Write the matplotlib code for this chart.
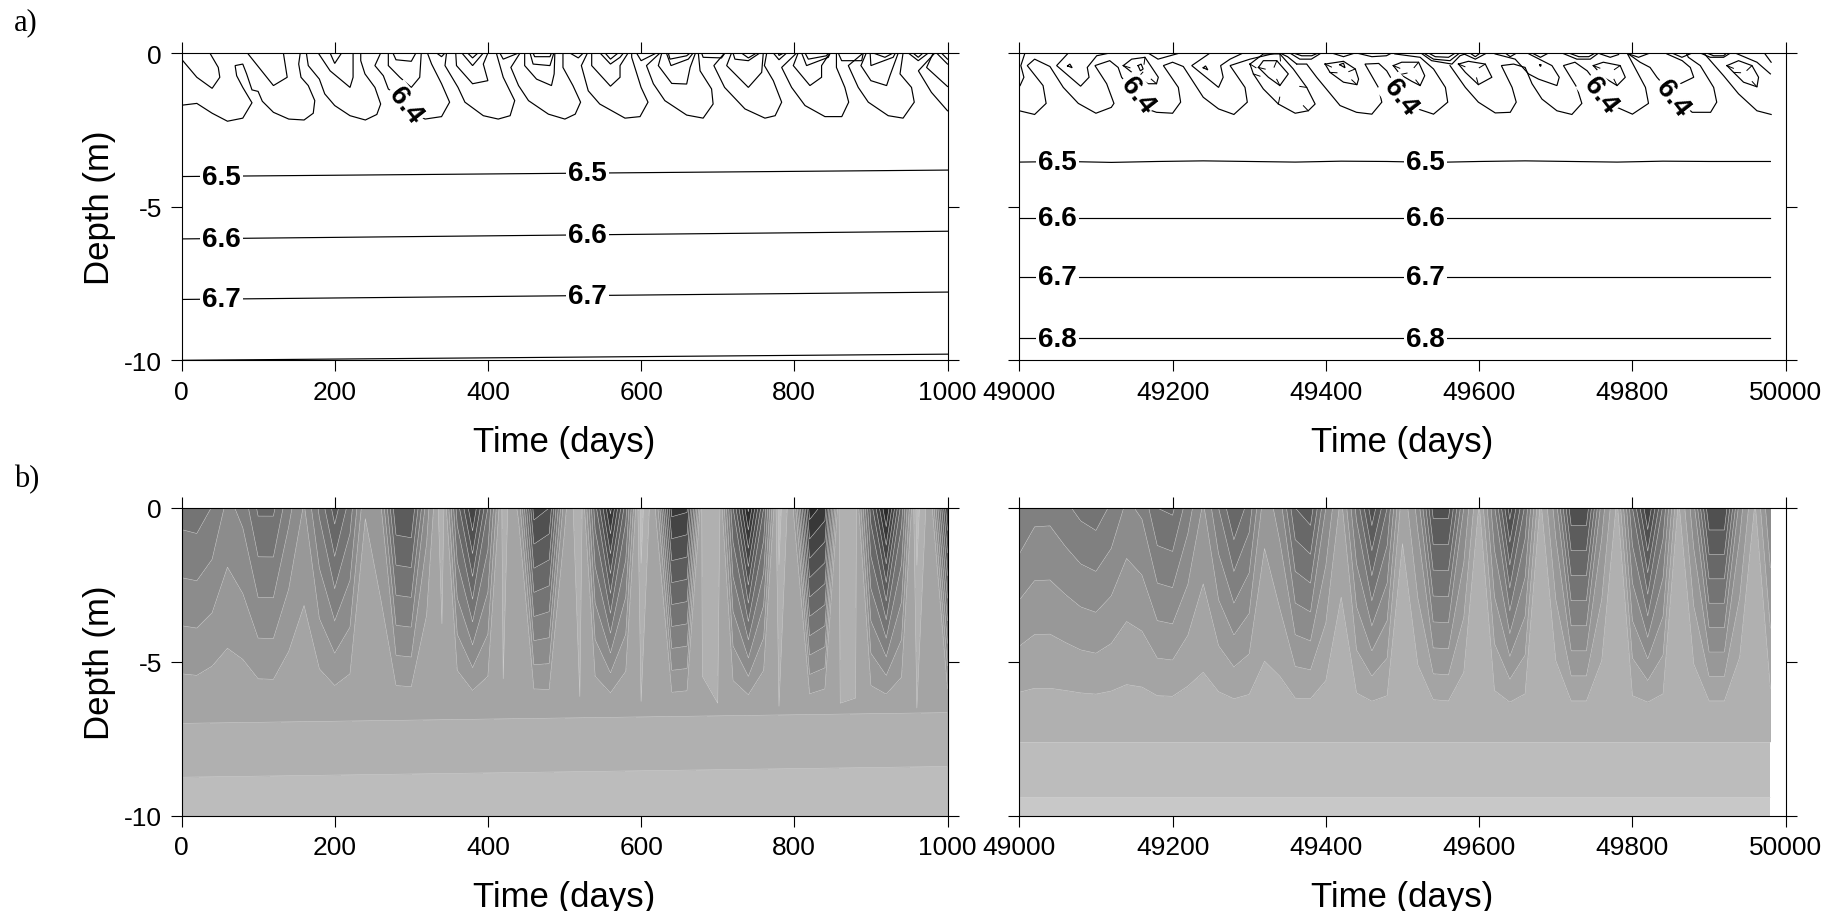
import numpy as np
import matplotlib
matplotlib.use('Agg')
import matplotlib.pyplot as plt

plt.rcParams['font.family'] = ['Liberation Sans', 'DejaVu Sans']
plt.rcParams['axes.unicode_minus'] = False

# ---- panel a: isotherms, (time, depth below surface)
left_iso64 = [
    [(0,1.70),(20,1.64),(40,1.96),(60,2.22),(80,2.12),(92,1.62),(80,1.12),(72,.74),(70,.41),(80,.36),(85,.68),(92,1.2),(100,1.25),(105.5,1.57),(120,1.93),(140,2.15),(160,2.18),(172,1.96),(174,1.55),(165.5,1.06),(156,.79),(153,.36),(155,0)],
    [(163,0),(165.5,.41),(180,.85),(187,1.33),(200,1.71),(220,2.04),(240,2.18),(255,2.0),(260,1.66),(252.5,1.12),(239.5,.68),(234,.25),(234,0)],
    [(260,0),(252.5,.41),(263.5,.74),(270,1.17),(278.5,1.33),(296,1.88),(318,2.15),(339.5,2.07),(350,1.6),(339.5,1.0),(326.5,.36),(321,0)],
    [(346,0),(344,.41),(361,1.12),(370,1.6),(394,2.04),(413.5,2.15),(429,2.04),(435,1.55),(420,.79),(411,0)],
    [(442,0),(430,.47),(440,1.06),(453,1.55),(479,1.99),(500.5,2.15),(514,1.99),(521,1.6),(511,1.06),(498,.47),(498,0)],
    [(530,0),(522,.41),(531,1.23),(546,1.66),(579,2.12),(598.6,2.07),(609,1.6),(600,1.12),(587.7,.14),(587.7,0)],
    [(624.7,0),(607,.41),(616,1.0),(631,1.55),(659.5,2.02),(681,2.12),(694,1.66),(692,1.17),(677,.58),(674.7,0)],
    [(709,0),(695,.41),(709,1.12),(735.6,1.82),(761.7,2.12),(775,2.04),(783.5,1.6),(772.6,.9),(761,.41),(764,0)],
    [(803,0),(783.5,.47),(796.5,1.12),(814,1.71),(840,2.07),(862,2.07),(871,1.6),(866,1.12),(855,.47),(855,0)],
    [(890,0),(870.5,.41),(883.5,1.12),(896.6,1.6),(922.6,2.04),(942,2.12),(956.6,1.6),(953,1.12),(938,.68),(942,0)],
    [(983.5,0),(962,.58),(979,1.28),(1000,1.88)],
]
left_iso63 = [
    [(0,.2),(20,.79),(40,1.15),(50,.79),(48,.47),(37,0)],
    [(86,0),(120,1.06),(138,.79),(133,0)],
    [(178.5,0),(194,.58),(220,1.12),(224,.79),(224,0)],
    [(270,0),(270,.41),(285,.79),(300,1.12),(311,.79),(313,0)],
    [(358,0),(359,.41),(380,1.0),(400,.9),(394,.36),(400,0)],
    [(448,0),(448,.41),(463.5,.85),(483,1.06),(486.5,.68),(487.4,0)],
    [(535.5,0),(535.5,.41),(560,1.08),(572.5,.79),(572.5,.41),(583,0)],
    [(627,0),(622.5,.41),(640,.99),(659.5,1.01),(664,.47),(671,0)],
    [(718,0),(711.7,.41),(740,1.12),(757.4,.63),(759.5,0)],
    [(805,0),(798.7,.41),(820.4,1.06),(835.6,.79),(835.6,.41),(846.5,0)],
    [(894,0),(887,.41),(900,.9),(920.5,1.06),(924.8,.74),(935.7,0)],
    [(981.4,0),(972.7,.47),(1000,1.09)],
]
left_nested = [
    [(194,0),(200,.34),(209,0)],
    [(276,0),(280,.22),(300,.27),(306,0)],
    [(333,0),(339.5,.12),(344,0)],
    [(366,0),(380,.41),(394,0)],
    [(373.5,0),(380,.16),(387,0)],
    [(415.6,0),(420,.2),(431,.09),(440,0)],
    [(455,0),(459,.36),(481,.41),(485,.09),(486,0)],
    [(459,0),(461,.12),(481,.12),(483,0)],
    [(507,0),(518,.16),(524.6,0)],
    [(546.4,0),(560,.36),(572.5,.14),(577,0)],
    [(553,0),(560,.2),(570,0)],
    [(594,0),(600,.25),(620,0)],
    [(633,0),(639,.41),(661.6,.2),(668,0)],
    [(635.5,0),(637.7,.2),(659.5,.09),(664,0)],
    [(679,0),(681,.14),(705,.16),(709.5,0)],
    [(720,0),(722.5,.2),(740,.25),(755,0)],
    [(731,0),(740,.16),(750.8,0)],
    [(772.6,0),(780,.22),(790,0)],
    [(779,0),(780,.08),(786,0)],
    [(809.6,0),(816,.41),(844.4,.14),(847,0)],
    [(814,0),(818.3,.2),(842,.09),(844.4,0)],
    [(857.4,0),(861.8,.25),(888,.25),(890,0)],
    [(899,0),(900,.41),(929,.14),(932,0)],
    [(903,0),(918.3,.14),(929,0)],
    [(948.8,0),(961.8,.25),(975,0)],
    [(955,0),(961.8,.14),(968,0)],
    [(985.7,0),(1000,.36)],
    [(992,0),(1000,.2)],
]

# right panel times are days after 49000
right_iso64 = [
    [(1,1.06),(6,.79),(2,.41),(7.4,0)],
    [(0,1.88),(20,2.0),(35,1.64),(31,1.06),(10.4,.41),(20,.2),(40,.44),(57.4,1.12),(77,1.64),(100,1.96),(120,1.77),(123.5,1.64),(114,1.0),(98.7,.41),(118,.25),(129,.47),(133.5,.79),(151,1.33),(166.5,1.82),(179,1.93),(200,1.96),(210.5,1.6),(207.5,1.12),(188,.41),(200,.3),(214,.44),(240,1.44),(260,1.82),(280,2.0),(297.5,1.6),(294.5,1.12),(275,.41),(301,.2),(335,0)],
    [(362,.36),(375,.36),(388,.79),(418.5,1.71),(440,1.93),(460,1.99),(473,1.6),(468.5,1.12),(451,.36),(469,.34),(479.4,.58),(497,1.33),(520,1.82),(540.5,1.99),(559,1.6),(556,1.12),(540.5,.52),(523,.14),(490,.03)],
    [(340,0),(350,.12),(362,.36)],
    [(562,.41),(582,1.12),(599,1.6),(621,1.95),(640.6,1.93),(648.4,1.6),(643,1.12),(629,.41),(645,.36),(660,.47),(669,1.0),(682,1.5),(701.5,1.88),(721,2.0),(734,1.64),(727.5,1.12),(710,.41),(725,.3),(741,.58),(760,1.2),(780,1.77),(800,1.99),(821,1.64),(817,1.12),(793,0)],
    [(793,0),(810,.3),(823,.47),(832,.79),(850,1.3),(878,1.93),(902,1.93),(910,1.6),(906,1.12),(888.5,.41),(873,.14),(870,0)],
    [(893,0),(919,.74),(938.5,1.33),(962.5,1.88),(981,2.0)],
]
right_iso63 = [
    [(64,0),(48.7,.41),(80,1.08),(91,.79),(88.7,.47),(101,.09),(118,0)],
    [(249,0),(225,.41),(260,1.12),(266,.79),(262.7,.41),(275,.2),(292,0)],
    [(620.8,.03),(647,.2),(664.5,.68),(677.5,.85),(701.5,1.06),(704.5,.79),(695,.41),(665,.03)],
    [(845,.03),(865,.25),(875.5,.47),(880,.79),(860,1.03)],
]
right_nested = [
    [(168,0),(181,.2),(209.5,0)],
    [(353,0),(366,.2),(381,.2),(394,0)],
    [(357.6,0),(368.5,.09),(381.6,.09),(390,0)],
    [(407.6,0),(423,.12),(438,0)],
    [(440,0),(460,.12),(479,.09),(486,0)],
    [(524,0),(538,.25),(564.5,.36),(575,.09),(585,0)],
    [(527.5,0),(540.5,.2),(562,.25),(573,.03)],
    [(534,0),(542.7,.12),(560,.14),(569,0)],
    [(577.5,0),(595,.2),(610,0)],
    [(588,0),(595,.12),(601.5,0)],
    [(634,0),(640.6,.12),(649,0)],
    [(669,0),(680,.14),(690.6,0)],
    [(708,0),(727.5,.2),(745,.2),(756,0)],
    [(717,0),(730,.12),(743,.12),(751.5,0)],
    [(758,.03),(771,.14),(782,.05)],
    [(795,.03),(808,.14),(823,0)],
    [(851.5,0),(864.6,.14),(878,0)],
    [(888.5,0),(901.6,.14),(919,.14),(928,0)],
    [(897,0),(906,.09),(919,.09),(923,0)],
    [(934,0),(962.5,.3),(980,.68)],
    [(973,.03),(981,.3)],
]
# closed cold cores, hachured
right_cores = [
    [(135.7,.41),(146.6,.2),(164,.14),(181.4,.79),(179,1.0),(168,1.0),(155,.79)],
    [(301,.36),(318.4,.03),(340,.03),(357.5,.52),(375,1.12),(386,1.66),(377,1.88),(360,1.96),(338,1.66),(318.4,1.17),(305.4,.68)],
    [(312,.47),(318.4,.25),(336,.25),(351,.68),(340,1.06),(325,.79)],
    [(399,.36),(423,.27),(438.4,.52),(442.7,.85),(440.5,1.03),(423,.95),(405.4,.63)],
    [(488,.41),(499,.3),(521,.3),(529,.74),(523,1.06),(512,.92),(497,.7)],
    [(573,.36),(586,.27),(608,.36),(616.6,.79),(599,1.03),(582,.63)],
    [(749,.41),(762,.3),(784,.41),(790.7,.79),(780,1.06),(762.4,.79)],
    [(923.3,.41),(938.5,.25),(956,.41),(964.6,.79),(962.5,1.1),(945,.95),(932,.63)],
]
right_specks = [
    [(63,.42),(66,.36),(69,.48),(63,.42)],
    [(240,.48),(243,.42),(246,.55),(240,.48)],
    [(155,.41),(159,.36),(161.6,.52),(158,.58),(155,.41)],
    [(418,.38),(423,.33),(425,.48),(418,.38)],
    [(679,.38),(681,.38),(680,.44),(679,.38)],
]

# deeper isotherms
left_deep_t = [0, 1000]
left_65 = [4.02, 3.81]
left_66 = [6.05, 5.8]
left_67 = [8.02, 7.78]
left_68 = [10.0, 9.8]
right_deep_t = [0,60,120,180,240,300,360,420,480,540,600,660,720,780,840,900,980]
right_65 = [3.55,3.53,3.56,3.53,3.51,3.53,3.55,3.52,3.53,3.56,3.53,3.51,3.53,3.55,3.52,3.53,3.53]
right_66 = [5.37]*17
right_67 = [7.29]*17
right_68 = [9.28]*17

# ---- panel b: shading levels at the surface, and depth of the lowest wavy contour
bl_surface = [6.45,6.54,5.96,4.73,5.3,7.2,7.2,5.3,3.9,6.2,8.5,6.55,3.1,3.8,8.9,9.0,4.5,1.2,7.5,11,7,1.5,3.2,10.5,10,3.3,1.0,7.6,12.3,7.4,.6,3.2,11.4,11.2,1.6,1.0,8,13.2,8,.6,3.2,12.6,11.6,1.2,1.6,8.5,13,7.5,.6,3,11]
bl_depth = [5.39,5.44,5.14,4.56,4.92,5.55,5.57,4.66,3.17,5.23,5.77,5.39,.35,2.95,5.77,5.81,3.49,3.9,5.28,5.93,5.47,5.88,.4,5.88,5.9,.8,6.31,5.47,6.01,5.31,6.42,.5,5.99,5.94,5.88,6.53,5.61,6.07,5.28,6.58,.5,6.04,5.88,6.58,6.64,5.77,6.05,5.5,6.64,6.64,5.88]
bl_line2 = [7.0, 6.65]
bl_line1 = [8.75, 8.4]

br_surface = [6,5.35,5.33,5.8,6.3,6.55,5.85,4.8,5.2,7,7.2,5.5,3.86,6,8,6.6,3.36,4.5,8,8.6,5,2.7,6.3,9.7,7,2.3,4.35,9.4,9.4,5,1.9,5.9,10.5,6.8,1.8,4.5,9.7,9.7,4.5,1.8,7,11,6.8,1.8,4.7,9.9,9.9,4.5,1.9,5]
br_depth = [5.99,5.86,5.86,5.93,6.01,6.05,5.95,5.74,5.82,6.1,6.12,5.79,5.34,5.97,6.2,6.06,4.98,5.47,6.18,6.2,5.61,2.9,6.01,6.28,6.1,1.16,5.1,6.23,6.27,5.34,.15,5.93,6.31,6.04,.2,4.96,6.27,6.27,4.96,.2,6.1,6.31,6.04,.2,5.07,6.27,6.27,4.85,.2,5.88]
br_line1 = 7.6
br_line0 = 9.4

shade_levels = np.arange(-6, 17)
shade_grays = [min(max(188 - 12 * k, 20), 250) for k in shade_levels[:-1]]
shade_colors = [str(g / 255) for g in shade_grays]

W, H = 1825, 912
fig = plt.figure(figsize=(W / 100, H / 100), dpi=100)


def make_ax(x0, x1, y0, y1):
    return fig.add_axes([x0 / W, 1 - y1 / H, (x1 - x0) / W, (y1 - y0) / H])


def style(ax, xlim, xticks, ylabels):
    ax.set_xlim(*xlim)
    ax.set_ylim(-10, 0)
    ax.set_xticks(xticks)
    ax.set_yticks([0, -5, -10])
    ax.set_yticklabels(['0', '-5', '-10'])
    ax.tick_params(direction='out', length=8, width=0.8, labelsize=19, top=True, right=True, left=True, bottom=True, labelleft=ylabels, pad=6)
    for s in ax.spines.values():
        s.set_linewidth(0.8)
    ax.set_xlabel('Time (days)', fontsize=25, labelpad=15)
    if ylabels:
        ax.set_ylabel('Depth (m)', fontsize=25, labelpad=6)


def draw_lines(ax, groups, offset=0):
    for group in groups:
        for line in group:
            pts = np.array(line, float)
            ax.plot(pts[:, 0] + offset, -pts[:, 1], color='k', lw=0.85, solid_joinstyle='miter')


def label(ax, x, y, txt, rot=0):
    ax.text(x, y, txt, fontsize=20, fontweight='bold', ha='center', va='center', rotation=rot,
            rotation_mode='anchor', zorder=5, bbox=dict(fc='white', ec='none', pad=1.5))


def hachures(ax, core, offset):
    pts = np.array(core, float)
    xy = ax.transData.transform(np.c_[pts[:, 0] + offset, -pts[:, 1]])
    c = xy.mean(axis=0)
    for p in xy[::2]:
        v = c - p
        end = p + v / np.hypot(*v) * 7
        seg = ax.transData.inverted().transform([p, end])
        ax.plot(seg[:, 0], seg[:, 1], color='k', lw=0.7)


# panel a left
ax1 = make_ax(181.5, 947.5, 54, 361.3)
draw_lines(ax1, [left_iso64, left_iso63, left_nested])
for vals in (left_65, left_66, left_67, left_68):
    ax1.plot(left_deep_t, -np.array(vals), color='k', lw=0.85)
style(ax1, (0, 1000), [0, 200, 400, 600, 800, 1000], True)
for v, y in zip(['6.5', '6.6', '6.7'], [-4.02, -6.04, -8.0]):
    label(ax1, 52, y, v)
for v, y in zip(['6.5', '6.6', '6.7'], [-3.9, -5.92, -7.9]):
    label(ax1, 530, y, v)
label(ax1, 292, -1.7, '6.4', -52)

# panel a right
ax2 = make_ax(1019.3, 1785.7, 54, 361.3)
style(ax2, (49000, 50000), [49000, 49200, 49400, 49600, 49800, 50000], False)
draw_lines(ax2, [right_iso64, right_iso63, right_nested, right_specks], 49000)
for core in right_cores:
    pts = np.array(core + core[:1], float)
    ax2.plot(pts[:, 0] + 49000, -pts[:, 1], color='k', lw=0.85)
    hachures(ax2, core, 49000)
for vals in (right_65, right_66, right_67, right_68):
    ax2.plot(np.array(right_deep_t) + 49000, -np.array(vals), color='k', lw=0.85)
for x in (49050, 49530):
    for v, y in zip(['6.5', '6.6', '6.7', '6.8'], [-3.55, -5.38, -7.3, -9.3]):
        label(ax2, x, y, v)
for x, y in zip((49154, 49497, 49758, 49852), (-1.36, -1.44, -1.36, -1.45)):
    label(ax2, x, y, '6.4', -52)

# panel b left
ax3 = make_ax(181.5, 947.5, 509, 816.7)
t_left = np.arange(len(bl_surface)) * 20.0
s = np.array(bl_surface)
mid_val = np.where(s < 3, 2.03, 3.0)
line2 = np.interp(t_left, [0, 1000], bl_line2)
line1 = np.interp(t_left, [0, 1000], bl_line1)
Y = np.array([np.zeros_like(s), -np.array(bl_depth), -line2, -line1, np.full_like(s, -10.0)])
Z = np.array([s, mid_val, np.full_like(s, 2.0), np.full_like(s, 1.0), np.full_like(s, 0.2)])
X = np.tile(t_left, (5, 1))
ax3.contourf(X, Y, Z, levels=shade_levels, colors=shade_colors)
ax3.contour(X, Y, Z, levels=shade_levels, colors='#cfcfcf', linewidths=0.4)
style(ax3, (0, 1000), [0, 200, 400, 600, 800, 1000], True)

# panel b right
ax4 = make_ax(1019.3, 1785.7, 509, 816.7)
t_right = 49000 + np.arange(len(br_surface)) * 20.0
s = np.array(br_surface)
Y = np.array([np.zeros_like(s), -np.array(br_depth), np.full_like(s, -br_line1), np.full_like(s, -br_line0), np.full_like(s, -10.0)])
Z = np.array([s, np.full_like(s, 2.0), np.full_like(s, 1.0), np.full_like(s, 0.0), np.full_like(s, -0.33)])
X = np.tile(t_right, (5, 1))
ax4.contourf(X, Y, Z, levels=shade_levels, colors=shade_colors)
ax4.contour(X, Y, Z, levels=shade_levels, colors='#cfcfcf', linewidths=0.4)
style(ax4, (49000, 50000), [49000, 49200, 49400, 49600, 49800, 50000], False)

fig.text(14 / W, 1 - 23 / H, 'a)', fontsize=22, family='Liberation Serif', va='center')
fig.text(14 / W, 1 - 480 / H, 'b)', fontsize=22, family='Liberation Serif', va='center')

fig.savefig('out.png', dpi=100)
